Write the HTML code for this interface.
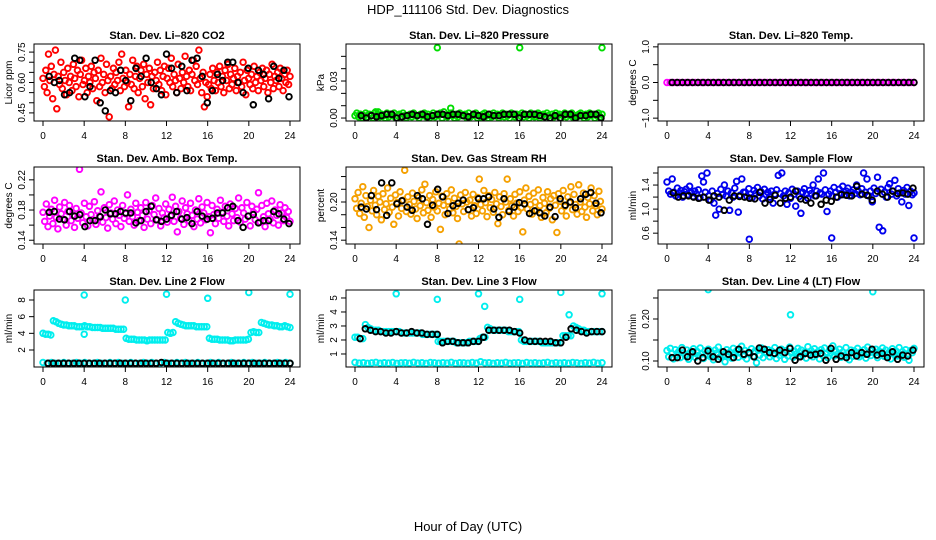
<!DOCTYPE html>
<html><head><meta charset="utf-8"><style>
html,body{margin:0;padding:0;background:#fff}
svg{display:block;font-family:"Liberation Sans",Arial,sans-serif}
</style></head><body>
<svg id="chart" width="936" height="540" viewBox="0 0 936 540">
<text x="468" y="14" text-anchor="middle" font-size="13">HDP_111106  Std. Dev. Diagnostics</text>
<text x="468" y="531" text-anchor="middle" font-size="13">Hour of Day (UTC)</text>
</svg>
<script>
// ---- data ----
const xTicks=[0,4,8,12,16,20,24];
const co2Red=[0.62,0.58,0.66,0.55,0.74,0.61,0.68,0.52,0.64,0.76,0.47,0.63,0.59,0.70,0.57,0.65,0.61,0.54,0.67,0.60,0.63,0.56,0.69,0.62,0.58,0.66,0.53,0.64,0.71,0.59,0.61,0.67,0.55,0.63,0.60,0.68,0.57,0.65,0.62,0.51,0.66,0.58,0.72,0.60,0.64,0.55,0.69,0.61,0.43,0.63,0.57,0.67,0.59,0.65,0.61,0.70,0.56,0.74,0.62,0.58,0.66,0.60,0.48,0.64,0.59,0.71,0.57,0.63,0.68,0.55,0.62,0.66,0.58,0.69,0.52,0.64,0.60,0.67,0.49,0.63,0.57,0.65,0.61,0.70,0.59,0.66,0.56,0.63,0.68,0.54,0.62,0.67,0.60,0.72,0.58,0.64,0.61,0.55,0.69,0.62,0.57,0.65,0.60,0.73,0.63,0.58,0.66,0.56,0.64,0.71,0.61,0.68,0.59,0.76,0.62,0.55,0.65,0.48,0.60,0.53,
0.59,0.64,0.57,0.67,0.61,0.56,0.65,0.60,0.68,0.58,0.63,0.55,0.66,0.61,0.69,0.57,0.64,0.59,0.62,0.67,0.56,0.63,0.60,0.65,0.58,0.70,0.61,0.54,0.66,0.62,0.59,0.64,0.57,0.68,0.60,0.63,0.56,0.65,0.61,0.67,0.58,0.62,0.66,0.55,0.64,0.60,0.69,0.57,0.63,0.61,0.65,0.58,0.67,0.62,0.56,0.64,0.60,0.66,0.59,0.63];
const co2Black=[0.63,0.60,0.61,0.54,0.55,0.72,0.71,0.53,0.58,0.71,0.50,0.46,0.56,0.55,0.66,0.61,0.51,0.67,0.63,0.72,0.60,0.57,0.54,0.74,0.67,0.55,0.68,0.56,0.71,0.72,0.63,0.50,0.56,0.64,0.61,0.70,0.70,0.60,0.55,0.67,0.49,0.66,0.64,0.52,0.68,0.62,0.66,0.53];
const presGreen=[0.002,0.004,0.001,0.003,0.000,0.002,0.004,0.001,0.003,0.002,0.000,0.004,0.002,0.005,0.001,0.003,0.002,0.000,0.004,0.001,0.003,0.002,0.004,0.000,0.002,0.003,0.001,0.004,0.002,0.000,0.002,0.003,0.001,0.004,0.002,0.002,0.000,0.003,0.002,0.004,0.001,0.003,0.000,0.002,0.004,0.001,0.003,0.002,0.004,0.000,0.005,0.002,0.001,0.003,0.004,0.002,0.000,0.003,0.001,0.004,0.002,0.002,0.003,0.000,0.004,0.001,0.002,0.003,0.004,0.000,0.002,0.001,0.003,0.004,0.002,0.000,0.003,0.001,0.004,0.002,0.003,0.000,0.002,0.004,0.001,0.003,0.002,0.000,0.004,0.003,
0.001,0.003,0.000,0.002,0.004,0.001,0.003,0.002,0.000,0.004,0.002,0.001,0.003,0.004,0.000,0.002,0.003,0.001,0.004,0.002,0.000,0.003,0.001,0.004,0.002,0.003,0.000,0.002,0.004,0.001,0.003,0.002,0.004,0.000,0.002,0.001,0.003,0.004,0.002,0.000,0.003,0.001,0.004,0.002,0.003,0.000,0.002,0.004,0.001,0.003];
const presOutHours=[8,16,24,9.3,2.0];
const presOutVals=[0.057,0.057,0.057,0.008,0.005];
const presBlack=[0.002,0.000,0.002,0.001,0.002,0.003,0.003,0.000,0.001,0.002,0.003,0.002,0.003,0.001,0.002,0.003,0.003,0.002,0.003,0.003,0.002,0.001,0.003,0.002,0.001,0.003,0.002,0.002,0.003,0.003,0.003,0.000,0.003,0.003,0.003,0.002,0.001,0.000,0.002,0.000,0.003,0.003,0.000,0.002,0.002,0.003,0.003,0.000];
const tempMag=[0,0,0,0,0,0,0,0,0,0,0,0,0,0,0,0,0,0,0,0,0,0,0,0,0,0,0,0,0,0,0,0,0,0,0,0,0,0,0,0,0,0,0,0,0,0,0,0,0,0,0,0,0,0,0,0,0,0,0,0,0,0,0,0,0,0,0,0,0,0,0,0,0,0,0,0,0,0,0,0];
const tempBlack=[0,0,0,0,0,0,0,0,0,0,0,0,0,0,0,0,0,0,0,0,0,0,0,0,0,0,0,0,0,0,0,0,0,0,0,0,0,0,0,0,0,0,0,0,0,0,0,0];
const boxMag=[0.177,0.165,0.188,0.158,0.172,0.181,0.162,0.193,0.170,0.155,0.184,0.175,0.168,0.190,0.160,0.178,0.186,0.166,0.173,0.157,0.182,0.169,0.234,0.176,0.163,0.189,0.171,0.159,0.185,0.174,0.167,0.191,0.161,0.179,0.172,0.204,0.164,0.183,0.170,0.156,0.187,0.176,0.168,0.192,0.162,0.180,0.173,0.158,0.186,0.169,0.175,0.200,0.165,0.181,0.171,0.160,0.189,0.177,0.166,0.183,0.173,0.157,0.190,0.168,0.179,0.162,0.186,0.174,0.196,0.167,0.182,0.159,0.176,0.170,0.188,0.164,0.181,0.172,0.197,0.165,0.185,0.151,0.178,0.169,0.192,0.161,0.183,0.175,0.166,0.189,0.173,0.158,0.180,0.168,0.195,0.163,0.184,0.176,0.167,0.190,0.171,0.150,0.186,0.174,0.162,0.181,0.169,0.193,0.177,0.165,0.185,0.172,0.159,0.188,0.175,0.166,0.182,0.170,0.196,0.164,0.183,0.176,0.168,0.190,0.172,0.159,0.185,0.177,0.167,0.181,0.203,0.164,0.186,0.171,0.158,0.189,0.175,0.168,0.192,0.163,0.180,0.173,0.160,0.187,0.176,0.166,0.183,0.170,0.178,0.165];
const boxBlack=[0.177,0.178,0.168,0.167,0.178,0.172,0.174,0.158,0.166,0.166,0.171,0.180,0.175,0.175,0.178,0.176,0.176,0.163,0.166,0.178,0.185,0.167,0.165,0.168,0.173,0.178,0.168,0.170,0.162,0.178,0.172,0.168,0.169,0.176,0.176,0.183,0.185,0.166,0.157,0.172,0.174,0.163,0.166,0.166,0.178,0.175,0.168,0.162];
const rhOrange=[0.205,0.190,0.215,0.182,0.198,0.224,0.176,0.210,0.193,0.160,0.203,0.186,0.218,0.195,0.180,0.209,0.200,0.172,0.213,0.188,0.197,0.222,0.184,0.206,0.192,0.165,0.211,0.199,0.178,0.216,0.190,0.203,0.250,0.185,0.208,0.196,0.181,0.214,0.201,0.189,0.174,0.207,0.194,0.219,0.183,0.228,0.199,0.187,0.210,0.176,0.204,0.192,0.216,0.186,0.198,0.157,0.209,0.195,0.180,0.213,0.201,0.189,0.219,0.183,0.206,0.193,0.174,0.134,0.211,0.197,0.185,0.215,0.200,0.188,0.203,0.178,0.212,0.194,0.182,0.207,0.236,0.196,0.186,0.218,0.199,0.177,0.210,0.191,0.204,0.184,0.215,0.197,0.166,0.208,0.193,0.180,0.213,0.200,0.236,0.187,0.205,0.194,0.178,0.212,0.198,0.185,0.216,0.191,0.153,0.203,0.222,0.189,0.209,0.196,0.181,0.214,0.200,0.187,0.219,0.194,0.176,0.207,0.198,0.183,0.216,0.190,0.205,0.172,0.210,0.195,0.152,0.213,0.201,0.186,0.218,0.193,0.178,0.208,0.199,0.224,0.188,0.212,0.196,0.181,0.227,0.200,0.185,0.214,0.192,0.176,0.207,0.197,0.222,0.186,0.210,0.194,0.180,0.217,0.201,0.189];
const rhBlack=[0.192,0.189,0.210,0.188,0.230,0.179,0.230,0.197,0.202,0.192,0.187,0.210,0.205,0.165,0.195,0.220,0.208,0.182,0.194,0.198,0.203,0.188,0.191,0.205,0.205,0.208,0.189,0.176,0.205,0.185,0.192,0.199,0.197,0.182,0.186,0.183,0.178,0.192,0.177,0.205,0.195,0.200,0.191,0.205,0.212,0.215,0.198,0.183];
const flowBlue=[1.45,1.30,1.25,1.50,1.28,1.22,1.35,1.26,1.31,1.20,1.29,1.33,1.24,1.38,1.27,1.21,1.30,1.25,1.32,1.19,1.55,1.45,1.28,1.60,1.22,1.15,1.30,1.10,0.90,1.26,1.00,1.33,1.24,1.40,1.22,1.30,0.98,1.27,1.20,1.35,1.46,0.95,1.23,1.50,1.28,1.28,1.21,1.34,1.25,1.19,1.31,1.26,1.36,1.22,1.29,1.17,1.33,1.24,1.28,1.20,1.30,1.10,1.25,1.32,1.56,1.26,1.60,1.22,1.30,1.08,1.27,1.18,1.33,1.25,1.05,1.30,1.21,0.93,1.28,1.34,1.25,1.18,1.31,1.26,1.40,1.22,1.30,1.50,1.27,1.25,1.60,1.32,0.96,1.25,1.30,1.22,1.36,1.28,1.20,1.33,1.26,1.38,1.24,1.30,1.35,1.22,1.28,1.32,1.26,1.40,1.30,1.24,1.34,1.60,1.28,1.50,1.22,1.30,1.12,1.35,1.26,1.53,0.70,1.33,0.64,1.28,1.20,1.36,1.42,1.25,1.30,1.48,1.22,1.34,1.27,1.12,1.31,1.25,1.36,1.06,1.30,1.24,1.27];
const flowOutHours=[8,16,24];
const flowOutVals=[0.50,0.52,0.52];
const flowBlack=[1.27,1.20,1.22,1.22,1.20,1.18,1.20,1.15,1.22,1.20,0.98,1.15,1.22,1.21,1.20,1.18,1.17,1.28,1.10,1.16,1.23,1.10,1.18,1.20,1.30,1.17,1.15,1.10,1.22,1.08,1.15,1.13,1.20,1.24,1.23,1.22,1.38,1.25,1.23,1.15,1.30,1.25,1.20,1.30,1.26,1.27,1.25,1.35];
const l2Upper=[4.0,3.9,3.9,3.8,5.5,5.4,5.2,5.1,5.0,5.0,4.9,4.9,4.9,4.8,4.8,4.8,4.9,4.8,4.8,4.7,4.7,4.7,4.7,4.6,4.6,4.6,4.6,4.6,4.5,4.5,4.5,4.5,3.4,3.3,3.3,3.3,3.2,3.2,3.2,3.2,3.1,3.2,3.2,3.2,3.2,3.2,3.2,3.2,4.1,4.0,4.1,5.4,5.2,5.1,5.0,4.9,4.9,4.9,4.9,4.8,4.8,4.8,4.8,4.8,3.4,3.3,3.3,3.3,3.2,3.2,3.2,3.2,3.1,3.1,3.2,3.2,3.2,3.2,3.2,3.3,4.1,4.2,4.1,4.1,5.3,5.2,5.1,5.0,5.0,4.9,4.9,4.8,4.8,4.9,4.8,4.7];
const l2OutHours=[4,4,8,12,16,20,24];
const l2OutVals=[8.6,3.9,8.0,8.7,8.2,8.9,8.7];
const l2Lower=[0.5,0.4,0.5,0.4,0.4,0.5,0.4,0.4,0.5,0.4,0.5,0.4,0.4,0.5,0.4,0.4,0.5,0.4,0.5,0.4,0.4,0.5,0.4,0.4,0.5,0.4,0.5,0.4,0.4,0.5,0.4,0.4,0.5,0.4,0.5,0.4,0.4,0.5,0.4,0.4,0.5,0.4,0.5,0.4,0.4,0.5,0.4,0.4,0.5,0.4,0.5,0.4,0.4,0.5,0.4,0.4,0.5,0.4,0.5,0.4];
const l2Black=[0.4,0.4,0.4,0.4,0.4,0.4,0.4,0.4,0.4,0.4,0.4,0.4,0.4,0.4,0.4,0.4,0.4,0.4,0.4,0.4,0.4,0.4,0.5,0.4,0.4,0.4,0.4,0.4,0.4,0.4,0.4,0.4,0.4,0.4,0.4,0.4,0.4,0.4,0.4,0.4,0.4,0.4,0.4,0.4,0.4,0.4,0.4,0.4];
const l3Upper=[2.2,2.2,2.1,2.1,3.1,2.9,2.8,2.7,2.7,2.7,2.6,2.6,2.6,2.6,2.6,2.6,2.6,2.6,2.5,2.5,2.5,2.5,2.5,2.5,2.5,2.5,2.4,2.4,2.4,2.4,2.4,2.4,1.9,1.9,1.9,1.9,1.9,1.9,1.9,1.8,1.8,1.8,1.8,1.8,1.9,1.9,1.9,1.9,2.1,2.2,2.2,2.9,2.8,2.7,2.7,2.7,2.7,2.7,2.7,2.6,2.6,2.6,2.6,2.6,2.0,1.9,1.9,1.9,1.9,1.9,1.9,1.9,1.8,1.8,1.8,1.8,1.8,1.8,1.8,1.8,2.3,2.3,2.3,2.3,3.0,2.9,2.8,2.7,2.7,2.6,2.6,2.6,2.6,2.6,2.6,2.6];
const l3Black=[2.1,2.8,2.7,2.6,2.6,2.5,2.5,2.6,2.5,2.5,2.6,2.5,2.5,2.4,2.4,2.4,1.8,1.9,1.9,1.8,1.8,1.8,1.9,1.9,2.2,2.7,2.7,2.7,2.7,2.7,2.6,2.5,2.0,1.9,1.9,1.9,1.9,1.9,1.8,1.8,2.2,2.8,2.7,2.6,2.5,2.6,2.6,2.6];
const l3OutHours=[4,8,12,12.6,16,20,20.8,24];
const l3OutVals=[5.3,4.9,5.3,4.4,4.9,5.4,3.8,5.3];
const l3Lower=[0.40,0.35,0.38,0.33,0.36,0.40,0.34,0.37,0.35,0.39,0.33,0.36,0.38,0.34,0.40,0.35,0.37,0.33,0.39,0.36,0.34,0.38,0.35,0.40,0.33,0.37,0.36,0.34,0.39,0.35,0.45,0.36,0.38,0.33,0.37,0.35,0.40,0.34,0.36,0.38,0.33,0.39,0.35,0.37,0.34,0.36,0.40,0.33,0.38,0.35,0.37,0.34,0.39,0.36,0.33,0.38,0.35,0.40,0.34,0.37];
const l4Cyan=[0.125,0.110,0.130,0.118,0.105,0.127,0.115,0.122,0.108,0.132,0.119,0.112,0.126,0.104,0.121,0.116,0.129,0.109,0.123,0.113,0.131,0.117,0.106,0.124,0.114,0.128,0.111,0.120,0.103,0.126,0.118,0.133,0.110,0.122,0.115,0.098,0.127,0.113,0.121,0.107,0.130,0.116,0.124,0.109,0.119,0.135,0.112,0.125,0.105,0.120,0.117,0.129,0.111,0.123,0.096,0.126,0.114,0.131,0.108,0.121,0.118,0.127,0.110,0.124,0.115,0.132,0.106,0.122,0.113,0.128,0.117,0.104,0.125,0.112,0.133,0.119,0.109,0.123,0.116,0.130,0.111,0.126,0.114,0.121,0.107,0.134,0.118,0.124,0.110,0.129,0.115,0.122,0.105,0.127,0.113,0.131,0.117,0.108,0.125,0.120,0.136,0.112,0.123,0.116,0.128,0.109,0.121,0.114,0.132,0.118,0.103,0.126,0.111,0.124,0.117,0.130,0.110,0.122,0.115,0.127,0.107,0.133,0.119,0.113,0.125,0.120,0.128,0.108,0.123,0.116,0.131,0.111,0.126,0.114,0.121,0.105,0.129,0.118,0.124,0.112,0.132,0.115,0.122,0.109,0.127,0.117,0.102,0.125,0.120,0.130];
const l4Black=[0.108,0.108,0.126,0.110,0.122,0.100,0.108,0.124,0.110,0.104,0.122,0.116,0.108,0.128,0.116,0.120,0.110,0.131,0.128,0.120,0.118,0.126,0.120,0.130,0.102,0.110,0.118,0.114,0.116,0.118,0.102,0.130,0.104,0.112,0.108,0.120,0.112,0.120,0.116,0.128,0.114,0.118,0.108,0.122,0.104,0.114,0.112,0.126];
const l4OutHours=[4,12,20];
const l4OutVals=[0.27,0.21,0.265];

// ---- layout ----
const NS="http://www.w3.org/2000/svg";
const svg=document.getElementById('chart');
const colLeft=[34,346,658], rowTop=[44,167,290], PW=266, PH=77;
function mk(tag,attrs,parent){const e=document.createElementNS(NS,tag);for(const k in attrs)e.setAttribute(k,attrs[k]);(parent||svg).appendChild(e);return e;}
function spread(vals,x0,x1){return vals.map((v,i)=>[x0+(x1-x0)*i/(vals.length-1),v]);}
function pairs(h,v){return h.map((x,i)=>[x,v[i]]);}

const panels=[
 {title:"Stan. Dev. Li\u2013820 CO2",ylab:"Licor ppm",ylim:[0.41,0.79],ticks:[0.45,0.50,0.55,0.60,0.65,0.70,0.75],labels:["0.45","","","0.60","","","0.75"],
  series:[{pts:spread(co2Red,0,24),c:"#ff0000"},{pts:spread(co2Black,0.6,23.9),c:"#000"}]},
 {title:"Stan. Dev. Li\u2013820 Pressure",ylab:"kPa",ylim:[-0.0024,0.060],ticks:[0,0.01,0.02,0.03,0.04,0.05],labels:["0.00","","","0.03","",""],
  series:[{pts:spread(presGreen,0,24),c:"#00dd00"},{pts:pairs(presOutHours,presOutVals),c:"#00dd00"},{pts:spread(presBlack,0.6,23.9),c:"#000"}]},
 {title:"Stan. Dev. Li\u2013820 Temp.",ylab:"degrees C",ylim:[-1.08,1.08],ticks:[-1,-0.5,0,0.5,1],labels:["\u22121.0","","0.0","","1.0"],
  series:[{pts:spread(tempMag,0,24),c:"#ff00ff"},{pts:spread(tempBlack,0.5,24),c:"#000"}]},
 {title:"Stan. Dev. Amb. Box Temp.",ylab:"degrees C",ylim:[0.135,0.237],ticks:[0.14,0.16,0.18,0.20,0.22],labels:["0.14","","0.18","","0.22"],
  series:[{pts:spread(boxMag,0,24),c:"#ff00ff"},{pts:spread(boxBlack,0.6,23.9),c:"#000"}]},
 {title:"Stan. Dev. Gas Stream RH",ylab:"percent",ylim:[0.134,0.255],ticks:[0.14,0.16,0.18,0.20,0.22,0.24],labels:["0.14","","","0.20","",""],
  series:[{pts:spread(rhOrange,0,24),c:"#f5a000"},{pts:spread(rhBlack,0.6,23.9),c:"#000"}]},
 {title:"Stan. Dev. Sample Flow",ylab:"ml/min",ylim:[0.42,1.7],ticks:[0.6,0.8,1.0,1.2,1.4,1.6],labels:["0.6","","1.0","","1.4",""],
  series:[{pts:spread(flowBlue,0,24),c:"#0000ee"},{pts:pairs(flowOutHours,flowOutVals),c:"#0000ee"},{pts:spread(flowBlack,0.6,23.9),c:"#000"}]},
 {title:"Stan. Dev. Line 2 Flow",ylab:"ml/min",ylim:[-0.04,9.2],ticks:[2,4,6,8],labels:["2","4","6","8"],
  series:[{pts:spread(l2Upper,0,24),c:"#00eeee"},{pts:pairs(l2OutHours,l2OutVals),c:"#00eeee"},{pts:spread(l2Lower,0,24),c:"#00eeee"},{pts:spread(l2Black,0.5,24),c:"#000"}]},
 {title:"Stan. Dev. Line 3 Flow",ylab:"ml/min",ylim:[0.07,5.57],ticks:[1,2,3,4,5],labels:["1","2","3","4","5"],
  series:[{pts:spread(l3Upper,0,24),c:"#00eeee"},{pts:pairs(l3OutHours,l3OutVals),c:"#00eeee"},{pts:spread(l3Lower,0,24),c:"#00eeee"},{pts:spread(l3Black,0.5,24),c:"#000"}]},
 {title:"Stan. Dev. Line 4 (LT) Flow",ylab:"ml/min",ylim:[0.0857,0.269],ticks:[0.10,0.15,0.20,0.25],labels:["0.10","","0.20",""],
  series:[{pts:spread(l4Cyan,0,24),c:"#00eeee"},{pts:pairs(l4OutHours,l4OutVals),c:"#00eeee"},{pts:spread(l4Black,0.5,23.9),c:"#000"}]}
];

panels.forEach((p,idx)=>{
  const L=colLeft[idx%3], T=rowTop[Math.floor(idx/3)], B=T+PH, R=L+PW;
  const g=mk('g',{});
  
  
  const xs=v=>L+9+(v/24)*(PW-19);
  const ys=v=>B-(v-p.ylim[0])/(p.ylim[1]-p.ylim[0])*PH;
  const t=mk('text',{x:L+PW/2,y:T-5,'text-anchor':'middle','font-size':'11','font-weight':'bold'},g);
  t.textContent=p.title;
  
  
  const yl=mk('text',{x:0,y:0,transform:`translate(${L-22},${T+PH/2}) rotate(-90)`,'text-anchor':'middle','font-size':'10'},g);
  yl.textContent=p.ylab;
  
  
  mk('line',{x1:xs(0),x2:xs(24),y1:B,y2:B,stroke:'#000'},g);
  xTicks.forEach(v=>{
    mk('line',{x1:xs(v),x2:xs(v),y1:B,y2:B+5,stroke:'#000'},g);
    const lt=mk('text',{x:xs(v),y:B+18,'text-anchor':'middle','font-size':'10'},g);
    lt.textContent=v;
    
    
  });
  mk('line',{x1:L,x2:L,y1:ys(p.ticks[0]),y2:ys(p.ticks[p.ticks.length-1]),stroke:'#000'},g);
  p.ticks.forEach((v,i)=>{
    mk('line',{x1:L-5,x2:L,y1:ys(v),y2:ys(v),stroke:'#000'},g);
    if(p.labels[i]){
      const lt=mk('text',{x:0,y:0,transform:`translate(${L-9},${ys(v)}) rotate(-90)`,'text-anchor':'middle','font-size':'10'},g);
      lt.textContent=p.labels[i];
      
      
    }
  });
  const clipId='clip'+idx;
  const cp=mk('clipPath',{id:clipId},g);
  mk('rect',{x:L,y:T,width:PW,height:PH},cp);
  const pg=mk('g',{'clip-path':`url(#${clipId})`},g);
  p.series.forEach(s=>{
    s.pts.forEach(([x,y])=>{
      const c=mk('circle',{cx:xs(x).toFixed(1),cy:ys(y).toFixed(1),r:2.8,fill:'none',stroke:s.c,'stroke-width':s.c==='#000'?1.9:1.9},pg);
      
      
    });
  });
  const box=mk('rect',{x:L,y:T,width:PW,height:PH,fill:'none',stroke:'#000'},g);
  
  
});
</script>
</body></html>
